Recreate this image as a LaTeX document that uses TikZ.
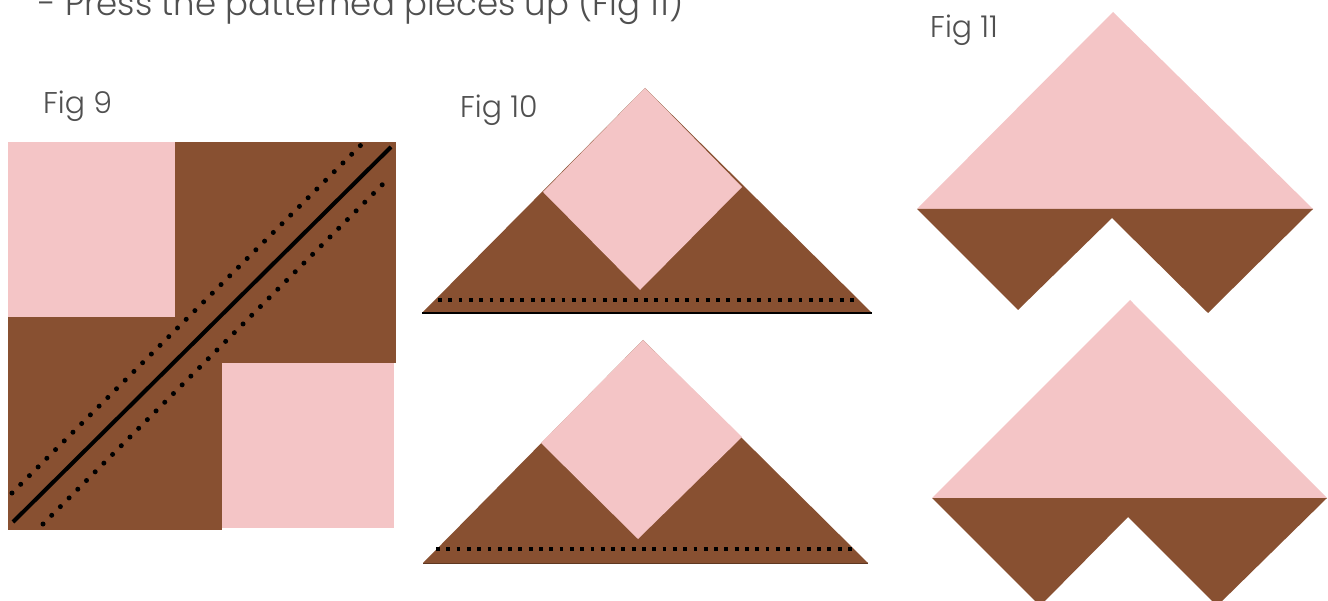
\documentclass[tikz,border=0pt]{standalone}
\usepackage{fontspec}
\setmainfont{Poppins}[UprightFont=* Light]
\definecolor{qpink}{RGB}{244,197,198}
\definecolor{qbrown}{RGB}{136,80,49}
\definecolor{qtext}{RGB}{80,80,80}
\tikzset{
  pinkfill/.style={fill=qpink},
  brownfill/.style={fill=qbrown},
  seam/.style={line width=4pt, black},
  roundstitch/.style={line width=5pt, black, line cap=round, dash pattern=on 0pt off 12.3pt},
  squarestitch/.style={line width=3.8pt, black, dash pattern=on 3.8pt off 6.5pt},
  label/.style={text=qtext, font=\fontsize{30}{36}\selectfont, inner sep=0pt},
  titletext/.style={text=qtext, font=\fontsize{34}{40}\selectfont, inner sep=0pt}
}
\begin{document}
\begin{tikzpicture}[x=1pt,y=-1pt]
\useasboundingbox (0,0) rectangle (1328,601);
\clip (0,0) rectangle (1328,601);
\fill[white] (0,0) rectangle (1328,601);
% title (cut off at the top edge, as in the reference)
\node[titletext, anchor=base west] (title) at (38,16) {- Press the patterned pieces up (Fig 11)};
% labels
\node[label, anchor=base west] (f9) at (43,114) {Fig 9};
\node[label, anchor=base west] (f10) at (460,118) {Fig 10};
\node[label, anchor=base west] (f11) at (930,38) {Fig 11};
% Fig 9
\fill[brownfill] (8,142) rectangle (396,530);
\fill[pinkfill] (8,142) rectangle (175,317);
\fill[pinkfill] (222,363) rectangle (394,528);
\fill[white] (394,363) rectangle (397,531);
\fill[white] (222,528) rectangle (397,531);
\draw[seam] (13,522) -- (391,147);
\draw[roundstitch] (12,493) -- (362,144);
\draw[roundstitch] (43,524) -- (389,178);
% Fig 10 top
\fill[brownfill] (422,313) -- (645,88) -- (872,313) -- cycle;
\fill[pinkfill] (645,88) -- (543,192) -- (640,290) -- (742,187) -- cycle;
\draw[black, line width=2pt] (422,313) -- (872,313);
\draw[squarestitch] (438,300) -- (855,300);
% Fig 10 bottom
\fill[brownfill] (423,563) -- (643,340) -- (868,563) -- cycle;
\fill[pinkfill] (643,340) -- (541,443) -- (638,539) -- (742,437) -- cycle;
\draw[qbrown!70!black, line width=1pt] (423,563) -- (868,563);
\draw[squarestitch] (436,549) -- (853,549);
% Fig 11 top
\fill[pinkfill] (917,209) -- (1113,12) -- (1313,209) -- cycle;
\fill[brownfill] (917,209) -- (1018,310) -- (1112,218) -- (1208,313) -- (1313,209) -- cycle;
% Fig 11 bottom
\fill[pinkfill] (932,498) -- (1130,300) -- (1327,498) -- cycle;
\fill[brownfill] (932,498) -- (1040,606) -- (1128,517) -- (1217,606) -- (1327,498) -- cycle;
\end{tikzpicture}
\end{document}
